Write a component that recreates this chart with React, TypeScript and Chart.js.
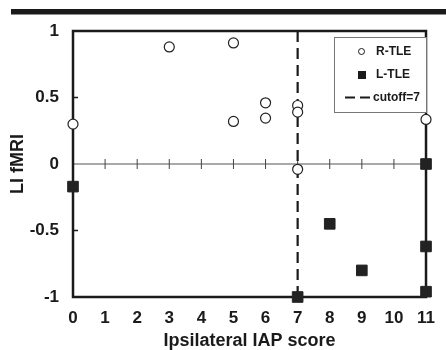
import React, { useEffect, useRef } from "react";
import { Chart, registerables } from "chart.js";

Chart.register(...registerables);

// ---- data ----
const xTickValues = [0, 1, 2, 3, 4, 5, 6, 7, 8, 9, 10, 11];
const yTickValues = [-1, -0.5, 0, 0.5, 1];
const rtleX = [0, 3, 5, 5, 6, 6, 7, 7, 7, 11];
const rtleY = [0.3, 0.88, 0.91, 0.32, 0.46, 0.345, 0.44, 0.39, -0.04, 0.335];
const ltleX = [0, 7, 8, 9, 11, 11, 11];
const ltleY = [-0.17, -1, -0.45, -0.8, 0, -0.62, -0.96];
const cutoffX = [7, 7];
const cutoffY = [1, -1];
const legendLabels = ["R-TLE", "L-TLE", "cutoff=7"];
const xTitle = "Ipsilateral IAP score";
const yTitle = "LI fMRI";

const FONT = '"Liberation Sans", Arial, Helvetica, sans-serif';
const INK = "#1a1a1a";

const framePlugin = {
  id: "frame",
  beforeDatasetsDraw(chart: any) {
    const { ctx, chartArea } = chart;
    const xs = chart.scales.x;
    const ys = chart.scales.y;
    const { left, right, top, bottom } = chartArea;
    ctx.save();
    // top black bar
    ctx.fillStyle = INK;
    ctx.fillRect(11, 9, 435, 5.5);
    // zero line
    const y0 = ys.getPixelForValue(0);
    ctx.strokeStyle = "#555";
    ctx.lineWidth = 1;
    ctx.beginPath();
    ctx.moveTo(left, y0);
    ctx.lineTo(right, y0);
    ctx.stroke();
    // ticks on zero line
    ctx.strokeStyle = "#444";
    xTickValues.forEach((v) => {
      if (v === 0 || v === 11) return;
      const px = xs.getPixelForValue(v);
      ctx.beginPath();
      ctx.moveTo(px, y0 - 5);
      ctx.lineTo(px, y0 + 5);
      ctx.stroke();
    });
    // y inner ticks
    ctx.strokeStyle = INK;
    ctx.lineWidth = 1.5;
    yTickValues.forEach((v) => {
      if (v === 0 || Math.abs(v) === 1) return;
      const py = ys.getPixelForValue(v);
      ctx.beginPath();
      ctx.moveTo(left, py);
      ctx.lineTo(left + 5, py);
      ctx.stroke();
    });
    // box
    ctx.strokeStyle = INK;
    ctx.lineWidth = 2.5;
    ctx.strokeRect(left, top, right - left, bottom - top);
    ctx.restore();
  },
  afterDraw(chart: any) {
    const { ctx } = chart;
    ctx.save();
    // legend box
    ctx.fillStyle = "#fff";
    ctx.fillRect(334, 37, 93, 75);
    ctx.strokeStyle = "#777";
    ctx.lineWidth = 1;
    ctx.strokeRect(334.5, 37.5, 92, 75);
    ctx.font = `bold 12px ${FONT}`;
    ctx.textBaseline = "middle";
    ctx.textAlign = "left";
    ctx.fillStyle = INK;
    // R-TLE
    ctx.beginPath();
    ctx.arc(361.5, 51.5, 3, 0, Math.PI * 2);
    ctx.fillStyle = "#fff";
    ctx.fill();
    ctx.strokeStyle = INK;
    ctx.lineWidth = 1;
    ctx.stroke();
    ctx.fillStyle = INK;
    ctx.fillText(legendLabels[0], 376, 52);
    // L-TLE
    ctx.fillRect(358, 71, 8, 8);
    ctx.fillText(legendLabels[1], 376, 75);
    // cutoff
    ctx.lineWidth = 2;
    ctx.setLineDash([10, 5]);
    ctx.beginPath();
    ctx.moveTo(345, 97.5);
    ctx.lineTo(370, 97.5);
    ctx.stroke();
    ctx.setLineDash([]);
    ctx.fillText(legendLabels[2], 373, 98);
    ctx.restore();
  },
};

export default function App() {
  const ref = useRef<HTMLCanvasElement | null>(null);
  useEffect(() => {
    if (!ref.current) return;
    const chart = new Chart(ref.current, {
      type: "scatter",
      data: {
        datasets: [
          {
            label: legendLabels[0],
            data: rtleX.map((x, i) => ({ x, y: rtleY[i] })),
            pointStyle: "circle",
            pointRadius: 5,
            pointBorderWidth: 1.2,
            borderColor: "#222",
            backgroundColor: "#fff",
            clip: false,
          } as any,
          {
            label: legendLabels[1],
            data: ltleX.map((x, i) => ({ x, y: ltleY[i] })),
            pointStyle: "rect",
            pointRadius: 7.5,
            pointBorderWidth: 1,
            borderColor: "#222",
            backgroundColor: "#222",
            clip: false,
          } as any,
          {
            label: legendLabels[2],
            data: cutoffX.map((x, i) => ({ x, y: cutoffY[i] })),
            showLine: true,
            pointRadius: 0,
            borderColor: INK,
            borderWidth: 2.2,
            borderDash: [11, 6],
            clip: false,
          } as any,
        ],
      },
      options: {
        responsive: false,
        animation: false,
        events: [],
        layout: { padding: { left: 0, top: 31, right: 9, bottom: 0 } },
        plugins: {
          legend: { display: false },
          tooltip: { enabled: false },
        },
        scales: {
          x: {
            type: "linear",
            min: 0,
            max: 11,
            afterBuildTicks: (s: any) => {
              s.ticks = xTickValues.map((v) => ({ value: v }));
            },
            afterFit: (s: any) => {
              s.height = 53;
            },
            grid: { display: false, drawTicks: false },
            border: { display: false },
            ticks: {
              color: INK,
              padding: 11,
              maxRotation: 0,
              autoSkip: false,
              font: { family: FONT, size: 17, weight: "bold" },
              callback: (v: any) => String(v),
            },
            title: {
              display: true,
              text: xTitle,
              color: INK,
              padding: { top: 0, bottom: -2 },
              font: { family: FONT, size: 18, weight: "bold" },
            },
          },
          y: {
            type: "linear",
            min: -1,
            max: 1,
            afterBuildTicks: (s: any) => {
              s.ticks = yTickValues.map((v) => ({ value: v }));
            },
            afterFit: (s: any) => {
              s.width = 73;
            },
            grid: { display: false, drawTicks: false },
            border: { display: false },
            ticks: {
              color: INK,
              padding: 14,
              autoSkip: false,
              font: { family: FONT, size: 17, weight: "bold" },
              callback: (v: any) => String(v),
            },
            title: {
              display: true,
              text: yTitle,
              color: INK,
              padding: { top: 7.5, bottom: 0 },
              font: { family: FONT, size: 18, weight: "bold" },
            },
          },
        },
      } as any,
      plugins: [framePlugin],
    });
    return () => chart.destroy();
  }, []);
  return (
    <div style={{ position: "fixed", left: 0, top: 0, width: 446, height: 350, background: "#fff" }}>
      <canvas ref={ref} width={446} height={350} style={{ display: "block" }} />
    </div>
  );
}
